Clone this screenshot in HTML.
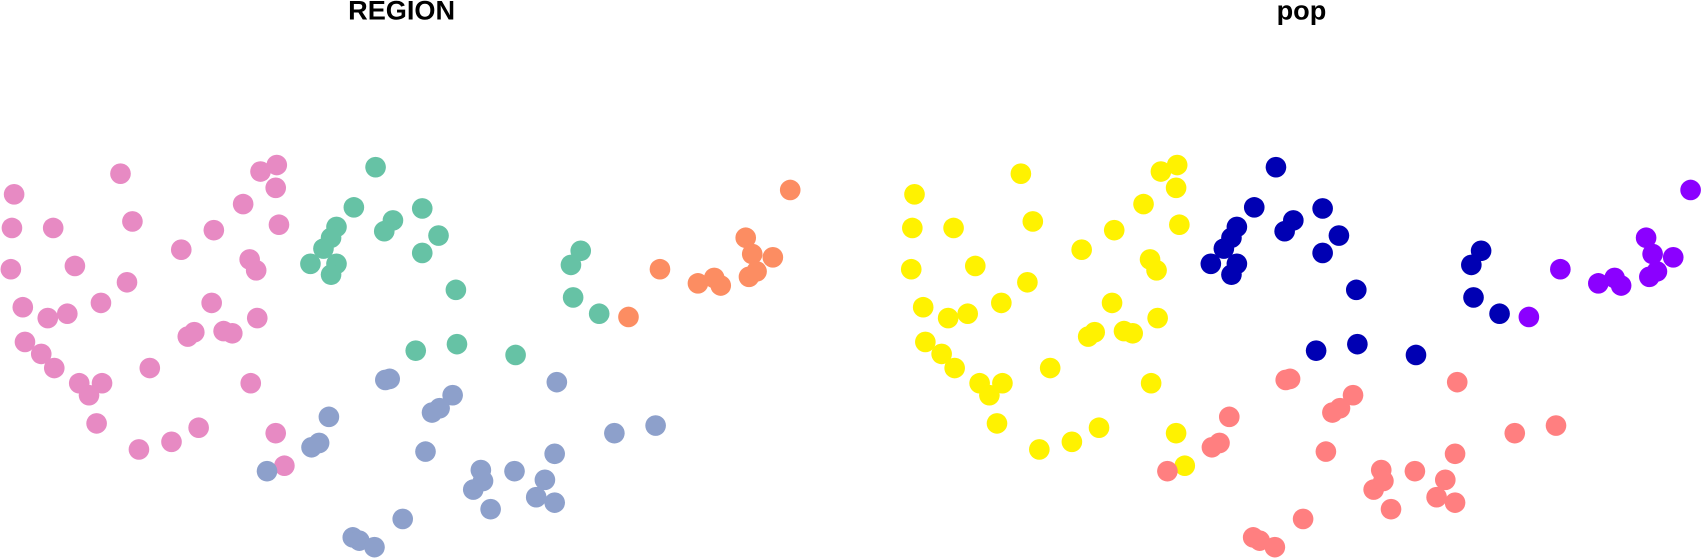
<!DOCTYPE html>
<html><head><meta charset="utf-8"><style>
html,body{margin:0;padding:0;background:#fff;}
svg{display:block;}
</style></head><body>
<svg id="chart" width="1702" height="558" viewBox="0 0 1568 514" preserveAspectRatio="none" xmlns="http://www.w3.org/2000/svg">
<text x="370" y="18" text-anchor="middle" font-family="Liberation Sans, sans-serif" font-weight="bold" font-size="25">REGION</text>
<text x="1199" y="18" text-anchor="middle" font-family="Liberation Sans, sans-serif" font-weight="bold" font-size="25">pop</text>
<g id="left"></g>
<g id="right"></g>
</svg>
<script>
const xs = [13,11,10,49,69,111,122,21,44,62,93,117,23,38,50,73,94,82,89,128,158,183,138,167,197,195,173,179,206,214,237,231,224,240,255,254,257,230,236,254,262,
346,326,389,362,354,404,389,310,305,298,286,310,305,420,535,526,528,552,383,421,475,
728,687,693,712,608,643,658,664,690,697,579,
359,355,417,405,398,513,303,294,287,246,392,371,325,331,345,443,474,436,445,502,494,511,452,511,566,604];
const ys = [178,209,247,209,244,159,203,282,292,288,278,259,314,325,338,352,352,363,389,413,406,393,338,229,211,278,309,305,304,306,292,352,187,157,151,172,206,238,248,398,428,
153,190,191,202,212,216,232,208,218,228,242,242,252,266,230,243,273,288,322,316,326,
174,218,233,236,247,260,255,262,254,249,291,
348,349,363,375,379,351,383,407,411,433,415,477,494,497,503,432,433,450,442,441,457,462,468,417,398,391];
const regions = [].concat(Array(41).fill('pink'),Array(21).fill('green'),Array(11).fill('orange'),Array(26).fill('blue'));
const pops = [].concat(Array(41).fill('p1'),Array(21).fill('p2'),Array(11).fill('p3'),Array(26).fill('p4'));
const regionColors = {pink:'#E78AC3',green:'#66C2A5',orange:'#FC8D62',blue:'#8DA0CB'};
const popColors = {p1:'#FFF200',p2:'#0000B3',p3:'#8B00FF',p4:'#FF7F80'};
const PANEL_OFFSET = 829.5;
const ns='http://www.w3.org/2000/svg';
function px(v,off){return v+off;}
function py(v){return v+1;}
const L=document.getElementById('left'), R=document.getElementById('right');
for(let i=0;i<xs.length;i++){
  const c=document.createElementNS(ns,'circle');
  c.setAttribute('cx',px(xs[i],0));c.setAttribute('cy',py(ys[i]));c.setAttribute('r',9.5);
  c.setAttribute('fill',regionColors[regions[i]]);
  
  
  L.appendChild(c);
  const d=document.createElementNS(ns,'circle');
  d.setAttribute('cx',px(xs[i],PANEL_OFFSET));d.setAttribute('cy',py(ys[i]));d.setAttribute('r',9.5);
  d.setAttribute('fill',popColors[pops[i]]);
  
  
  R.appendChild(d);
}
</script>
</body></html>
